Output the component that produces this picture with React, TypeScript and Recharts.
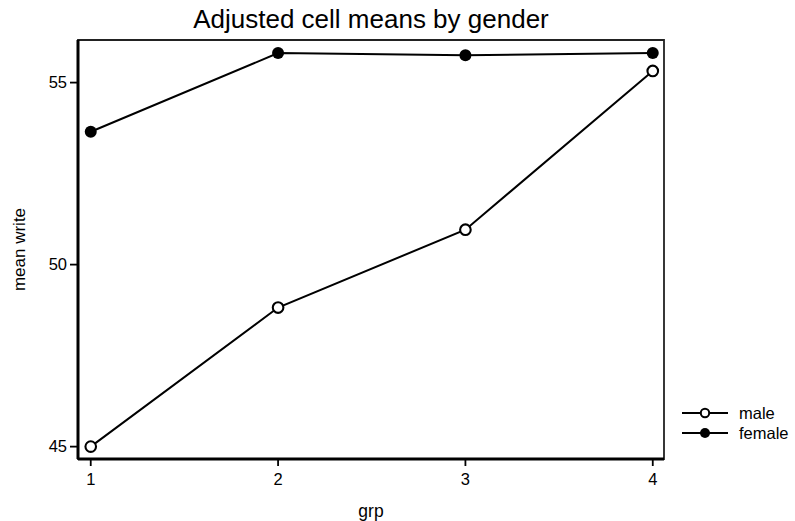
import React from "react";
import {
  LineChart,
  Line,
  XAxis,
  YAxis,
  ReferenceArea,
} from "recharts";

// Adjusted cell means of "write" by group, one series per gender
const grp = [1, 2, 3, 4];
const maleWrite = [45.0, 48.82, 50.96, 55.32];
const femaleWrite = [53.65, 55.81, 55.75, 55.81];
const xTicks = [1, 2, 3, 4];
const yTicks = [45, 50, 55];
const seriesNames = ["male", "female"];

const W = 795;
const H = 521;
const FONT = "'Liberation Sans', Arial, Helvetica, sans-serif";
const X_DOMAIN: [number, number] = [0.932, 4.06];
const Y_DOMAIN: [number, number] = [44.66, 56.17];

const data = grp.map((g, i) => ({
  grp: g,
  male: maleWrite[i],
  female: femaleWrite[i],
}));

const hollow = (r: number) => (props: any) => {
  const { cx, cy, index } = props;
  return (
    <circle
      key={`m-${index}`}
      cx={cx}
      cy={cy}
      r={r}
      fill="#fff"
      stroke="#000"
      strokeWidth={2.1}
    />
  );
};

const solid = (r: number) => (props: any) => {
  const { cx, cy, index } = props;
  return <circle key={`f-${index}`} cx={cx} cy={cy} r={r} fill="#000" />;
};

const YTitle = (props: any) => {
  const vb = props.viewBox || {};
  const cy = (vb.y ?? 40) + (vb.height ?? 419) / 2;
  const cx = 19;
  return (
    <text
      x={cx}
      y={cy}
      transform={`rotate(-90, ${cx}, ${cy})`}
      textAnchor="middle"
      dominantBaseline="central"
      fontFamily={FONT}
      fontSize={17}
      fill="#000"
    >
      mean write
    </text>
  );
};

export default function App() {
  return (
    <div
      style={{
        position: "absolute",
        left: 0,
        top: 0,
        width: W,
        height: H,
        background: "#fff",
      }}
    >
      <LineChart
        width={W}
        height={H}
        data={data}
        margin={{ top: 40, right: 131, bottom: 0, left: 0 }}
      >
        <ReferenceArea
          x1={X_DOMAIN[0]}
          x2={X_DOMAIN[1]}
          y1={Y_DOMAIN[0]}
          y2={Y_DOMAIN[1]}
          fill="none"
          stroke="#222"
          strokeWidth={1.8}
          ifOverflow="visible"
        />
        <XAxis
          dataKey="grp"
          type="number"
          domain={X_DOMAIN}
          ticks={xTicks}
          allowDataOverflow
          height={62}
          tickSize={7}
          tickMargin={7}
          axisLine={{ stroke: "#000", strokeWidth: 3 }}
          tickLine={{ stroke: "#000", strokeWidth: 1.8 }}
          tick={{ fill: "#000", fontSize: 16.5, fontFamily: FONT }}
          label={{
            value: "grp",
            position: "insideBottom",
            offset: 4,
            fill: "#000",
            fontSize: 17.5,
            fontFamily: FONT,
          }}
        />
        <YAxis
          type="number"
          domain={Y_DOMAIN}
          ticks={yTicks}
          allowDataOverflow
          width={78}
          tickSize={8}
          tickMargin={3}
          axisLine={{ stroke: "#000", strokeWidth: 3 }}
          tickLine={{ stroke: "#000", strokeWidth: 1.8 }}
          tick={{ fill: "#000", fontSize: 16.5, fontFamily: FONT }}
          label={<YTitle />}
        />
        <Line
          dataKey="male"
          name={seriesNames[0]}
          stroke="#000"
          strokeWidth={2}
          isAnimationActive={false}
          dot={hollow(5.3)}
          activeDot={false}
        />
        <Line
          dataKey="female"
          name={seriesNames[1]}
          stroke="#000"
          strokeWidth={2}
          isAnimationActive={false}
          dot={solid(6)}
          activeDot={false}
        />
      </LineChart>
      <svg
        width={W}
        height={H}
        style={{ position: "absolute", left: 0, top: 0, pointerEvents: "none" }}
      >
        <text
          x={371}
          y={28}
          textAnchor="middle"
          fontFamily={FONT}
          fontSize={26}
          fill="#000"
        >
          Adjusted cell means by gender
        </text>
        {seriesNames.map((name, i) => {
          const y = 413 + i * 20;
          return (
            <g key={name}>
              <line x1={682} x2={728} y1={y} y2={y} stroke="#000" strokeWidth={2} />
              {i === 0 ? (
                <circle cx={705} cy={y} r={4.2} fill="#fff" stroke="#000" strokeWidth={2} />
              ) : (
                <circle cx={705} cy={y} r={5} fill="#000" />
              )}
              <text
                x={739}
                y={y + 5.5}
                fontFamily={FONT}
                fontSize={16.5}
                fill="#000"
              >
                {name}
              </text>
            </g>
          );
        })}
      </svg>
    </div>
  );
}
